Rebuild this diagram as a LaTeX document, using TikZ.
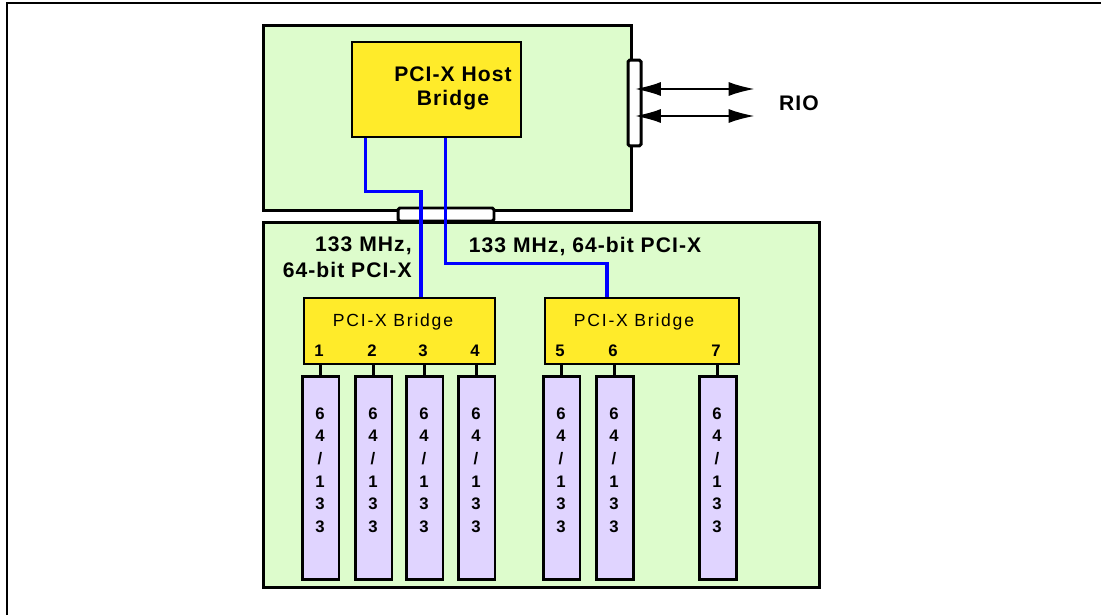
\documentclass[tikz,border=0pt]{standalone}
\usepackage{fontspec}
\setmainfont{Liberation Sans}
\newfontfamily\widefont[LetterSpace=5]{Liberation Sans}
\newfontfamily\bridgefont[LetterSpace=10]{Liberation Sans}
\usepackage{tikz}
\usepackage{xcolor}
\usetikzlibrary{
    arrows.meta,
    calc,
    positioning
}
\definecolor{boardgreen}{RGB}{221,252,204}
\definecolor{chipyellow}{RGB}{255,235,42}
\definecolor{slotlilac}{RGB}{224,212,255}
\tikzset{
    board/.style={draw=black, line width=1.7pt, fill=boardgreen, inner sep=0pt},
    chip/.style={draw=black, line width=1.6pt, fill=chipyellow, inner sep=0pt},
    connbar/.style={draw=black, line width=1.7pt, fill=white, rounded corners=1pt, inner sep=0pt},
    slot/.style={draw=black, line width=1.7pt, fill=slotlilac, inner sep=0pt,
        minimum width=0.74cm, minimum height=4.08cm},
    stub/.style={line width=1.7pt},
    pcix/.style={draw=blue, line width=1.8pt},
    riolink/.style={line width=1.5pt, {Latex[length=15pt,width=8pt]}-{Latex[length=15pt,width=8pt]}},
    boldlabel/.style={font=\widefont\bfseries\fontsize{12}{13.6}\selectfont, inner sep=0pt},
    bridgelabel/.style={font=\bridgefont\fontsize{10}{12}\selectfont, inner sep=0pt},
    portnum/.style={font=\bfseries\fontsize{9.5}{10}\selectfont, inner sep=0pt},
    slotlabel/.style={font=\bfseries\fontsize{9.5}{12.9}\selectfont, align=center, inner sep=0pt}
}

\begin{document}
\begin{tikzpicture}[x=0.02cm, y=0.02cm]
    \useasboundingbox (0, 0) rectangle (1101, -615);
    % page frame
    \draw[line width=0.8pt] (7, -615) -- (7, -3) -- (1101, -3);

    % boards
    \node[board, minimum width=7.38cm, minimum height=3.72cm] (hostboard) at (447.5, -118) {};
    \node[board, minimum width=11.14cm, minimum height=7.32cm] (ioboard) at (541.5, -405) {};
    \node[chip, minimum width=3.38cm, minimum height=1.9cm] (hostbridge) at (436.5, -89.5) {};
    \node[connbar, minimum width=0.26cm, minimum height=1.72cm] (riobar) at (634.5, -103) {};
    \node[connbar, minimum width=1.92cm, minimum height=0.26cm] (iobar) at (446, -214.5) {};
    \node[chip, minimum width=3.82cm, minimum height=1.32cm] (bridgeA) at (399.5, -331) {};
    \node[chip, minimum width=3.88cm, minimum height=1.32cm] (bridgeB) at (642, -331) {};

    % slots
    \foreach \n/\x/\br in {1/320.5/bridgeA, 2/373.5/bridgeA, 3/424.5/bridgeA, 4/476.5/bridgeA,
                           5/561.5/bridgeB, 6/614.5/bridgeB, 7/717.5/bridgeB} {
        \node[slot] (slot\n) at (\x, -478) {};
        \node[slotlabel] (slotlabel\n) at ($(slot\n.center)+(-0.5, 8)$) {6\\4\\/\\1\\3\\3};
        \node[portnum] (port\n) at ($(slot\n.north)+(-1.5, 24)$) {\n};
        \draw[stub] (slot\n.north) -- (slot\n.north |- \br.south);
    }

    % PCI-X buses
    \draw[pcix] ($(hostbridge.south west)+(15, 0)$) |- ($(bridgeA.north)+(21.5, 105)$) -- ($(bridgeA.north)+(21.5, 0)$);
    \draw[pcix] ($(hostbridge.south west)+(95, 0)$) |- ($(bridgeB.north)+(-35, 33)$) -- ($(bridgeB.north)+(-35, 0)$);

    % RIO links
    \coordinate (rioA) at (755, -89);
    \coordinate (rioB) at (755, -116);
    \draw[riolink] (riobar.center |- rioA) -- (rioA);
    \draw[riolink] (riobar.center |- rioB) -- (rioB);

    % labels
    \node[boldlabel, align=center] (hostlabel) at (453, -88) {PCI-X Host\\Bridge};
    \node[boldlabel] (riolabel) at (799, -103) {RIO};
    \node[boldlabel, align=right, anchor=east, font=\widefont\bfseries\fontsize{12}{14.7}\selectfont] (busAlabel) at (412, -257) {133 MHz,\\64-bit PCI-X};
    \node[boldlabel] (busBlabel) at (585, -246) {133 MHz, 64-bit PCI-X};
    \node[bridgelabel] (bridgeAlabel) at (393, -322) {PCI-X Bridge};
    \node[bridgelabel] (bridgeBlabel) at (634, -322) {PCI-X Bridge};
\end{tikzpicture}
\end{document}
